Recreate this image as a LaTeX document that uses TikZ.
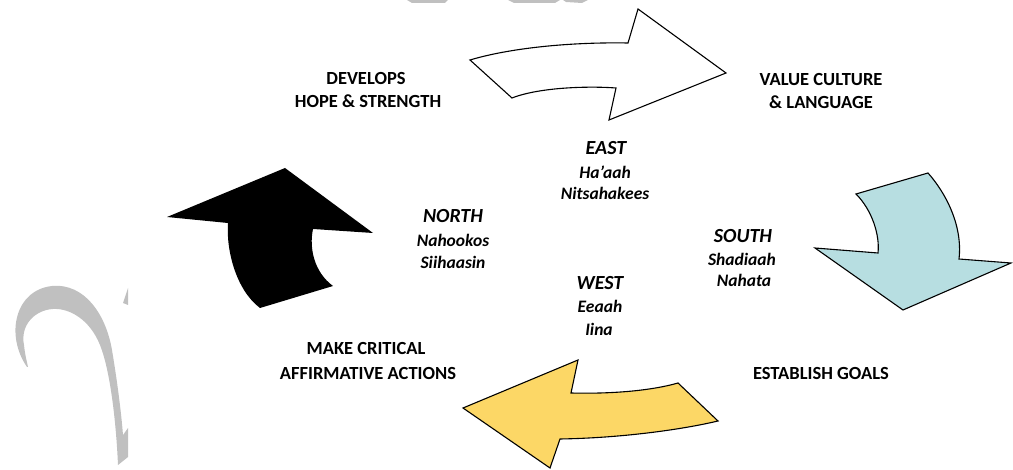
\documentclass[tikz,border=0pt]{standalone}
\usepackage{fontspec}
\setmainfont{Carlito}
\definecolor{wmgrey}{RGB}{192,192,192}
\definecolor{southblue}{RGB}{183,222,225}
\definecolor{westyellow}{RGB}{252,215,102}
\begin{document}
\begin{tikzpicture}[x=1pt,y=-1pt,
  stagetext/.style={anchor=base,inner sep=0pt,font=\fontsize{18.5}{22}\selectfont\bfseries},
  dirtitle/.style={anchor=base,inner sep=0pt,font=\fontsize{20}{22}\selectfont\bfseries\itshape},
  dirword/.style={anchor=base,inner sep=0pt,font=\fontsize{17.5}{22}\selectfont\bfseries\itshape},
  bigarrow/.style={draw=black,line width=1.1pt,line join=miter},
  watermark/.style={fill=wmgrey}]
\useasboundingbox (0,0) rectangle (1013,470);

% faint grey background marks
\fill[watermark] (27,367) .. controls (5,335) and (15,290) .. (52,286)
  .. controls (85,283) and (106,315) .. (112,350)
  .. controls (117,380) and (121,410) .. (123,435)
  -- (128,428) -- (128,457) -- (118,465)
  .. controls (116,420) and (110,370) .. (100,345)
  .. controls (90,320) and (70,308) .. (53,309)
  .. controls (35,310) and (20,325) .. (24,345)
  .. controls (25,355) and (27,362) .. (28,367) -- cycle;
\fill[watermark] (128,288) -- (128,305) -- (123,303) -- cycle;
\fill[watermark] (407,0) -- (448,0) -- (445,3) -- (412,3) -- cycle;
\fill[watermark] (508,0) -- (560,0) -- (555,3) -- (514,3) -- cycle;
\fill[watermark] (563,0) -- (588,0) -- (582,3) -- (566,2) -- cycle;

% east arrow (white, pointing right)
\draw[bigarrow,fill=white] (470,60) .. controls (510,48) and (570,42) .. (628,43)
  -- (638,9) -- (726,73) -- (609,120) -- (616,88)
  .. controls (590,86) and (540,87) .. (512,98) -- cycle;

% south arrow (blue, pointing down)
\draw[bigarrow,fill=southblue] (856,194) -- (928,173)
  .. controls (945,192) and (963,225) .. (959,259)
  -- (1011,263) -- (903,310) -- (815,248) -- (878,253)
  .. controls (880,235) and (872,210) .. (856,194) -- cycle;

% west arrow (yellow, pointing left)
\draw[bigarrow,fill=westyellow] (578,360) -- (571,393)
  .. controls (610,394) and (650,391) .. (678,383)
  -- (718,421) .. controls (680,430) and (620,438) .. (560,439)
  -- (550,468) -- (463,408) -- cycle;

% north arrow (black, pointing up)
\fill[black] (285,168) -- (373,233) -- (313,229)
  .. controls (309,248) and (314,272) .. (333,286)
  -- (260,308) .. controls (236,290) and (226,250) .. (228,223)
  -- (167,217) -- cycle;

% stage labels
\node[stagetext] (dev1) at (366,85) {DEVELOPS};
\node[stagetext] (dev2) at (368,108) {HOPE \& STRENGTH};
\node[stagetext] (val1) at (821,86) {VALUE CULTURE};
\node[stagetext] (val2) at (821,109) {\& LANGUAGE};
\node[stagetext] (mak1) at (366,355) {MAKE CRITICAL};
\node[stagetext] (mak2) at (368,380) {AFFIRMATIVE ACTIONS};
\node[stagetext] (goal) at (821,380) {ESTABLISH GOALS};

% directions
\node[dirtitle] (east) at (606,155) {EAST};
\node[dirword] (east1) at (605,179) {Ha’aah};
\node[dirword] (east2) at (605,200) {Nitsahakees};

\node[dirtitle] (north) at (453,223) {NORTH};
\node[dirword] (north1) at (453,247) {Nahookos};
\node[dirword] (north2) at (453,269) {Siihaasin};

\node[dirtitle] (south) at (743,243) {SOUTH};
\node[dirword] (south1) at (742,266) {Shadiaah};
\node[dirword] (south2) at (744,287) {Nahata};

\node[dirtitle] (west) at (600,290) {WEST};
\node[dirword] (west1) at (600,313) {Eeaah};
\node[dirword] (west2) at (599,336) {Iina};
\end{tikzpicture}
\end{document}
